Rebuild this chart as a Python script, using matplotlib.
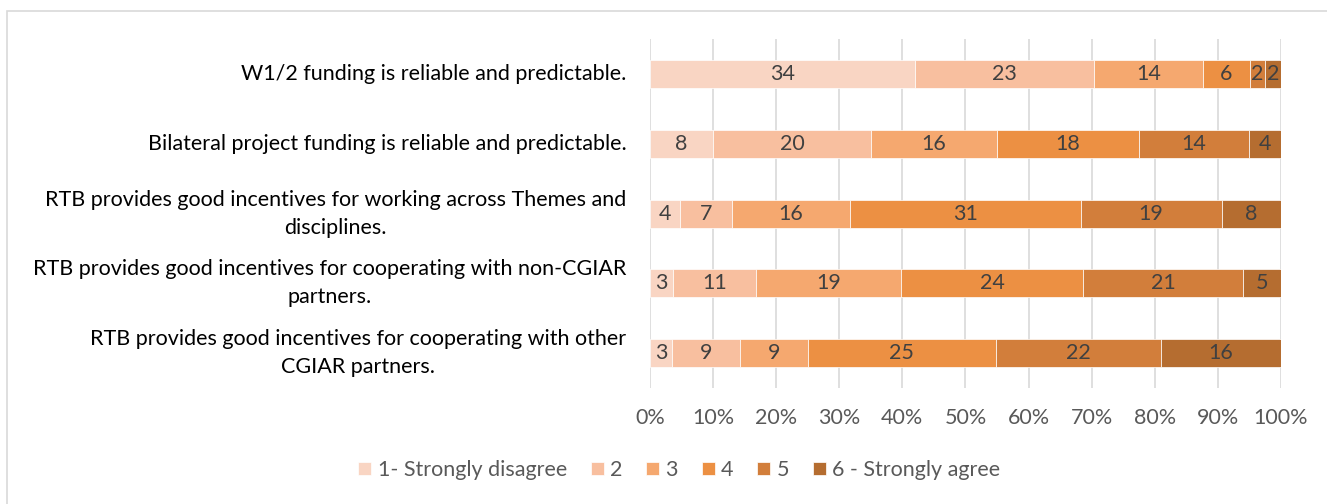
import matplotlib.pyplot as plt
import numpy as np
from matplotlib.patches import Rectangle

plt.rcParams['font.family'] = ['Lato', 'DejaVu Sans']

# survey statements, top to bottom
statements = [
    'W1/2 funding is reliable and predictable.',
    'Bilateral project funding is reliable and predictable.',
    'RTB provides good incentives for working across Themes and\ndisciplines.',
    'RTB provides good incentives for cooperating with non-CGIAR\npartners.',
    'RTB provides good incentives for cooperating with other\nCGIAR partners.',
]
levels = ['1- Strongly disagree', '2', '3', '4', '5', '6 - Strongly agree']

# counts per level (1..6) for each statement
w12 = [34, 23, 14, 6, 2, 2]
bilateral = [8, 20, 16, 18, 14, 4]
themes = [4, 7, 16, 31, 19, 8]
non_cgiar = [3, 11, 19, 24, 21, 5]
other_cgiar = [3, 9, 9, 25, 22, 16]

colors = ['#F9D5C3', '#F8BF9F', '#F5A86F', '#EC9043', '#D27E3B', '#B56D30']

counts = np.array([w12, bilateral, themes, non_cgiar, other_cgiar], dtype=float)
shares = counts / counts.sum(axis=1, keepdims=True)

fs = 15.5

fig = plt.figure(figsize=(13.27, 5.04), dpi=100)
ax = fig.add_axes([0.4898, 0.230, 0.4755, 0.6926])

# chart border
fig.patches.append(Rectangle((7 / 1327, -0.1), 1.2, (504 - 11) / 504 + 0.1,
                             transform=fig.transFigure, fill=False,
                             edgecolor='#D9D9D9', linewidth=1.2))

ypos = np.arange(len(statements))[::-1]
left = np.zeros(len(statements))
for j in range(len(levels)):
    bars = ax.barh(ypos, shares[:, j], left=left, height=0.4, color=colors[j],
                   edgecolor='white', linewidth=0.5, label=levels[j], zorder=3)
    for i, b in enumerate(bars):
        ax.text(left[i] + shares[i, j] / 2, ypos[i], f'{int(counts[i, j])}',
                ha='center', va='center', fontsize=fs, color='#404040', zorder=4)
    left += shares[:, j]

ax.set_xlim(0, 1)
ax.set_ylim(-0.5, 4.5)
ax.set_xticks(np.linspace(0, 1, 11))
ax.set_xticklabels([f'{p}%' for p in range(0, 101, 10)])
ax.tick_params(axis='x', length=0, labelsize=fs, labelcolor='#595959', pad=14)
ax.set_yticks([])

# statement labels, right aligned, lines centred
for y, s in zip(ypos, statements):
    ax.annotate(s, xy=(0, y), xycoords=('axes fraction', 'data'),
                xytext=(-17, 0), textcoords='offset points',
                ha='right', va='center', multialignment='center',
                linespacing=1.5, fontsize=fs, color='black')

ax.grid(axis='x', color='#D9D9D9', linewidth=1.2, zorder=0)
for s in ax.spines.values():
    s.set_visible(False)

handles, labs = ax.get_legend_handles_labels()
fig.legend(handles, labs, loc='center', bbox_to_anchor=(0.512, 0.067), ncol=6,
           frameon=False, fontsize=fs, labelcolor='#595959', handlelength=0.6,
           handleheight=0.6, handletextpad=0.3, columnspacing=1.1)

fig.savefig('out.png', dpi=100, facecolor='white')
